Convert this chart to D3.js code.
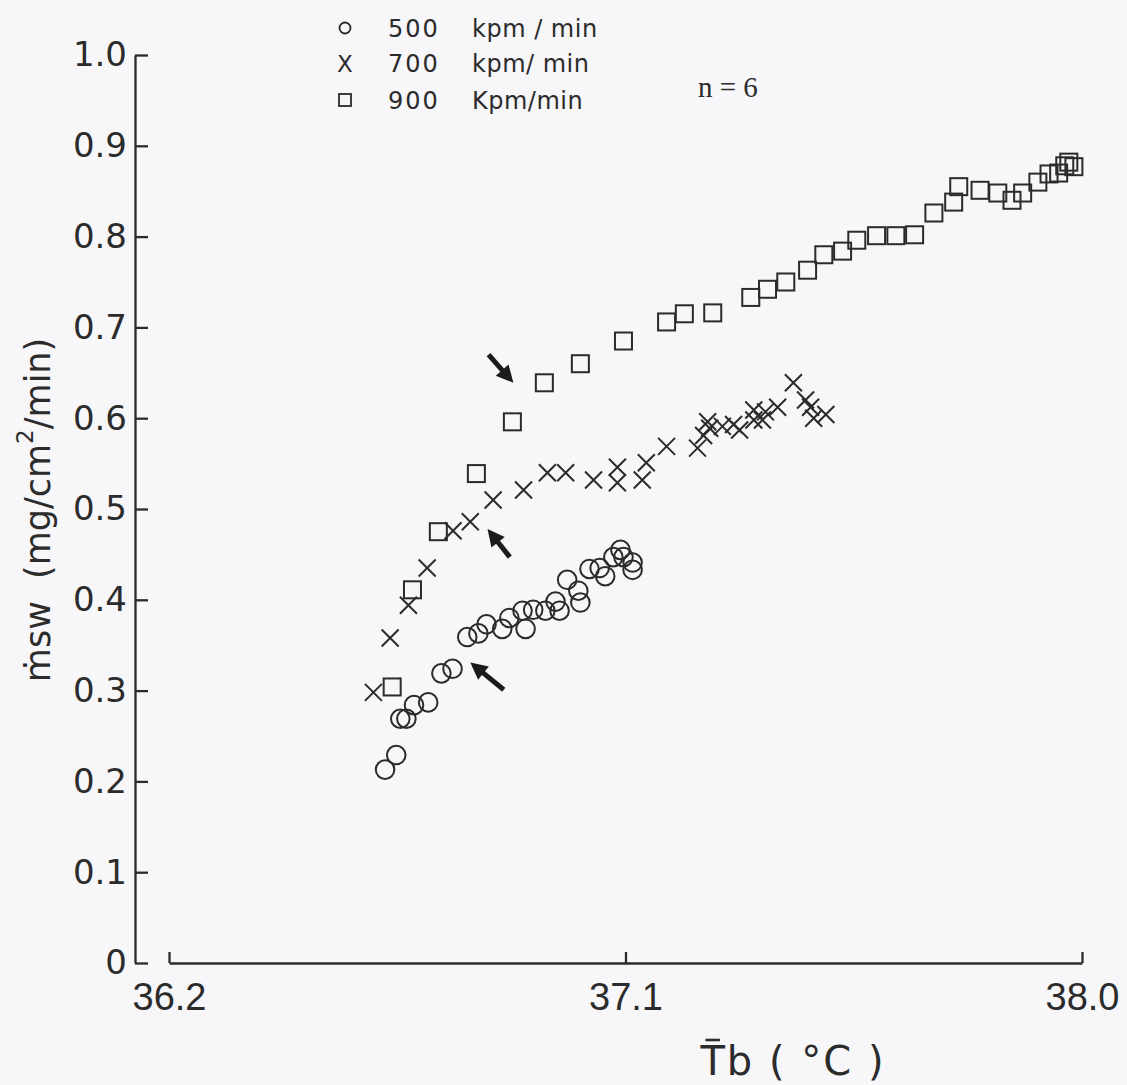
<!DOCTYPE html>
<html>
<head>
<meta charset="utf-8">
<script src="https://cdn.jsdelivr.net/npm/d3@7"></script>
<style>
  html, body { margin: 0; padding: 0; background: #f7f6f9; }
  svg { display: block; }
</style>
</head>
<body>
<div id="chart"></div>
<script>
// Sweat rate vs. mean body temperature at three work loads
const xTicks = [36.2, 37.1, 38.0];
const yTicks = [0, 0.1, 0.2, 0.3, 0.4, 0.5, 0.6, 0.7, 0.8, 0.9, 1.0];

// 500 kpm/min  [Tb, msw]
const load500 = [
  [36.626, 0.213], [36.648, 0.229], [36.656, 0.269], [36.668, 0.269],
  [36.683, 0.284], [36.711, 0.287], [36.737, 0.319], [36.759, 0.324],
  [36.788, 0.359], [36.810, 0.363], [36.826, 0.373], [36.857, 0.368],
  [36.871, 0.380], [36.897, 0.388], [36.903, 0.368], [36.918, 0.389],
  [36.942, 0.388], [36.962, 0.398], [36.970, 0.388], [36.985, 0.422],
  [37.007, 0.410], [37.011, 0.397], [37.029, 0.434], [37.049, 0.435],
  [37.060, 0.426], [37.076, 0.447], [37.090, 0.455], [37.096, 0.447],
  [37.114, 0.441], [37.114, 0.433]
];

// 700 kpm/min
const load700 = [
  [36.603, 0.298], [36.636, 0.358], [36.672, 0.394], [36.709, 0.435],
  [36.760, 0.476], [36.794, 0.486], [36.839, 0.510], [36.899, 0.521],
  [36.946, 0.540], [36.982, 0.540], [37.037, 0.532], [37.084, 0.546],
  [37.084, 0.529], [37.133, 0.532], [37.141, 0.551], [37.181, 0.569],
  [37.242, 0.567], [37.254, 0.581], [37.262, 0.596], [37.266, 0.589],
  [37.291, 0.591], [37.313, 0.593], [37.325, 0.587], [37.353, 0.598],
  [37.353, 0.609], [37.370, 0.598], [37.376, 0.607], [37.400, 0.612],
  [37.431, 0.639], [37.455, 0.620], [37.465, 0.612], [37.471, 0.600],
  [37.495, 0.604]
];

// 900 kpm/min
const load900 = [
  [36.640, 0.304], [36.680, 0.411], [36.731, 0.475], [36.806, 0.539],
  [36.877, 0.596], [36.940, 0.639], [37.011, 0.660], [37.096, 0.685],
  [37.181, 0.706], [37.216, 0.715], [37.272, 0.716], [37.347, 0.733],
  [37.380, 0.742], [37.416, 0.750], [37.459, 0.763], [37.491, 0.780],
  [37.528, 0.784], [37.556, 0.796], [37.595, 0.801], [37.633, 0.801],
  [37.670, 0.802], [37.708, 0.826], [37.747, 0.838], [37.757, 0.855],
  [37.799, 0.851], [37.834, 0.848], [37.862, 0.840], [37.883, 0.848],
  [37.913, 0.860], [37.935, 0.869], [37.954, 0.870], [37.966, 0.878],
  [37.974, 0.882], [37.984, 0.877]
];

// arrows marking the change of slope: [tailTb, tailMsw, tipTb, tipMsw]
const arrows = [
  [36.830, 0.670, 36.879, 0.639],
  [36.872, 0.447, 36.828, 0.478],
  [36.860, 0.301, 36.794, 0.331]
];

const legendLabels = ["500", "700", "900"];
const legendUnits = ["kpm / min", "kpm/ min", "Kpm/min"];

const W = 1127, H = 1085;
const ink = "#2b2b2b";

const svg = d3.select("#chart").append("svg")
  .attr("width", W).attr("height", H);

const x = d3.scaleLinear().domain([36.2, 38.0]).range([169, 1082]);
const y = d3.scaleLinear().domain([0, 1.0]).range([963, 55]);

// y axis: ticks point into the plot, labels on the left
const yAxis = d3.axisLeft(y)
  .tickValues(yTicks)
  .tickSizeInner(-13)
  .tickSizeOuter(0)
  .tickPadding(8)
  .tickFormat(d => d === 0 ? "0" : d.toFixed(1));

const gy = svg.append("g").attr("transform", "translate(135,0)").call(yAxis);
gy.selectAll("path, line").attr("stroke", ink).attr("stroke-width", 2.3);
gy.selectAll("text")
  .attr("fill", ink)
  .style("font-family", "DejaVu Sans")
  .style("font-size", "34px");

// x axis starts detached from the y axis
const xAxis = d3.axisBottom(x)
  .tickValues(xTicks)
  .tickSizeInner(-11)
  .tickSizeOuter(0)
  .tickPadding(20)
  .tickFormat(d => d.toFixed(1));

const gx = svg.append("g").attr("transform", "translate(0,963)").call(xAxis);
gx.selectAll("path, line").attr("stroke", ink).attr("stroke-width", 2.3);
gx.selectAll("text")
  .attr("fill", ink)
  .style("font-family", "Liberation Sans")
  .style("font-size", "38px");

// axis titles
const xTitle = svg.append("text")
  .attr("x", 793).attr("y", 1075)
  .attr("text-anchor", "middle")
  .attr("fill", ink)
  .style("font-family", "DejaVu Sans")
  .style("font-size", "40px")
  .style("letter-spacing", "2px")
  .text("Tb ( °C )");
// bar over the T
const tBox = xTitle.node().getExtentOfChar(0);
svg.append("line")
  .attr("x1", tBox.x + 5).attr("x2", tBox.x + tBox.width - 7)
  .attr("y1", tBox.y + 2).attr("y2", tBox.y + 2)
  .attr("stroke", ink).attr("stroke-width", 2.6);

svg.append("text")
  .attr("transform", "translate(38,510) rotate(-90)")
  .attr("text-anchor", "middle")
  .attr("dominant-baseline", "central")
  .attr("fill", ink)
  .style("font-family", "DejaVu Sans")
  .style("font-size", "35px")
  .html('ṁsw&#160;&#160;(mg/cm<tspan dy="-13" font-size="23px">2</tspan><tspan dy="13">/min)</tspan>');

// markers
const mk = { stroke: ink, width: 2 };
const crossPath = h => `M${-h},${-h}L${h},${h}M${-h},${h}L${h},${-h}`;

svg.append("g").selectAll("circle").data(load500).join("circle")
  .attr("cx", d => x(d[0])).attr("cy", d => y(d[1]))
  .attr("r", 9.3)
  .attr("fill", "none").attr("stroke", mk.stroke).attr("stroke-width", mk.width);

svg.append("g").selectAll("path").data(load700).join("path")
  .attr("transform", d => `translate(${x(d[0])},${y(d[1])})`)
  .attr("d", crossPath(8.5))
  .attr("fill", "none").attr("stroke", mk.stroke).attr("stroke-width", mk.width);

svg.append("g").selectAll("rect").data(load900).join("rect")
  .attr("x", d => x(d[0]) - 8.5).attr("y", d => y(d[1]) - 8.5)
  .attr("width", 17).attr("height", 17)
  .attr("fill", "none").attr("stroke", mk.stroke).attr("stroke-width", mk.width);

// arrows
const ga = svg.append("g");
arrows.forEach(a => {
  const x0 = x(a[0]), y0 = y(a[1]), x1 = x(a[2]), y1 = y(a[3]);
  const ang = Math.atan2(y1 - y0, x1 - x0);
  const head = 17, half = 8.5;
  const bx = x1 - head * Math.cos(ang), by = y1 - head * Math.sin(ang);
  ga.append("line")
    .attr("x1", x0).attr("y1", y0).attr("x2", bx + 2 * Math.cos(ang)).attr("y2", by + 2 * Math.sin(ang))
    .attr("stroke", "#1b1b1b").attr("stroke-width", 5);
  const px = -Math.sin(ang) * half, py = Math.cos(ang) * half;
  ga.append("path")
    .attr("d", `M${x1},${y1}L${bx + px},${by + py}L${bx - px},${by - py}Z`)
    .attr("fill", "#1b1b1b");
});

// legend
const lg = svg.append("g");
const rowY = [28, 63, 100];
lg.append("circle").attr("cx", 345).attr("cy", rowY[0]).attr("r", 5.5)
  .attr("fill", "none").attr("stroke", ink).attr("stroke-width", 1.8);
lg.append("text").attr("x", 345).attr("y", rowY[1] + 9)
  .attr("text-anchor", "middle").attr("fill", ink)
  .style("font-family", "DejaVu Sans").style("font-size", "23px").text("X");
lg.append("rect").attr("x", 339).attr("y", rowY[2] - 6).attr("width", 12).attr("height", 12)
  .attr("fill", "none").attr("stroke", ink).attr("stroke-width", 1.8);

legendLabels.forEach((t, i) => {
  lg.append("text").attr("x", 388).attr("y", rowY[i] + 9)
    .attr("fill", ink)
    .style("font-family", "DejaVu Sans").style("font-size", "24px")
    .style("letter-spacing", "2px")
    .text(t);
  lg.append("text").attr("x", 472).attr("y", rowY[i] + 9)
    .attr("fill", ink)
    .style("font-family", "DejaVu Sans").style("font-size", "24px")
    .style("letter-spacing", "0.5px")
    .text(legendUnits[i]);
});

svg.append("text").attr("x", 698).attr("y", 97)
  .attr("fill", ink)
  .style("font-family", "Liberation Serif").style("font-size", "29px")
  .text("n = 6");
</script>
</body>
</html>
